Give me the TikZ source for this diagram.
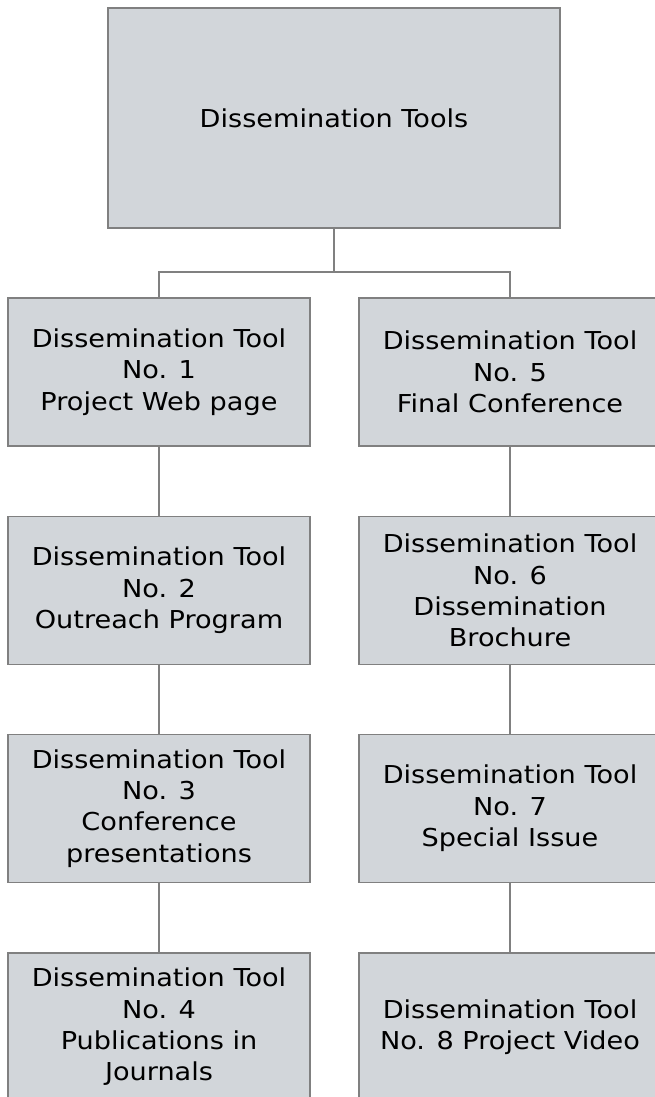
\documentclass[tikz,border=0pt]{standalone}
\usepackage{fontspec}
\setmainfont[FakeStretch=1.1]{DejaVu Sans}
\usetikzlibrary{positioning}
\definecolor{toolfill}{RGB}{210,214,218}
\definecolor{toolline}{RGB}{128,128,128}

\begin{document}
\begin{tikzpicture}[x=0.75pt,y=-0.75pt,line cap=rect,
    tool/.style={draw=toolline,fill=toolfill,line width=1.1pt,align=center,
      inner sep=0pt,minimum width=226.5pt,minimum height=111pt,
      font=\fontsize{18.5}{23.5}\selectfont},
    link/.style={draw=toolline,line width=1.1pt}]
        \useasboundingbox (0,0) rectangle (655,1097);
        \clip (0,0) rectangle (655,1097);
        % root
        \node[tool,minimum width=339pt,minimum height=165pt] (root) at (334,118) {Dissemination Tools};
        % left column
        \node[tool] (t1) at (159,372) {Dissemination Tool\\No. 1\\Project Web page};
        \node[tool] (t2) at (159,590.5) {Dissemination Tool\\No. 2\\Outreach Program};
        \node[tool] (t3) at (159,808.5) {Dissemination Tool\\No. 3\\Conference\\presentations};
        \node[tool] (t4) at (159,1027) {Dissemination Tool\\No. 4\\Publications in\\Journals};
        % right column
        \node[tool] (t5) at (510,372) {Dissemination Tool\\No. 5\\Final Conference};
        \node[tool] (t6) at (510,590.5) {Dissemination Tool\\No. 6\\Dissemination\\Brochure};
        \node[tool] (t7) at (510,808.5) {Dissemination Tool\\No. 7\\Special Issue};
        \node[tool] (t8) at (510,1027) {Dissemination Tool\\No. 8 Project Video};
        % connectors
        \coordinate (split) at (334,272);
        \draw[link] (root.south) -- (split) -| (t1.north);
        \draw[link] (split) -| (t5.north);
        \draw[link] (t1) -- (t2);
        \draw[link] (t2) -- (t3);
        \draw[link] (t3) -- (t4);
        \draw[link] (t5) -- (t6);
        \draw[link] (t6) -- (t7);
        \draw[link] (t7) -- (t8);
\end{tikzpicture}
\end{document}
